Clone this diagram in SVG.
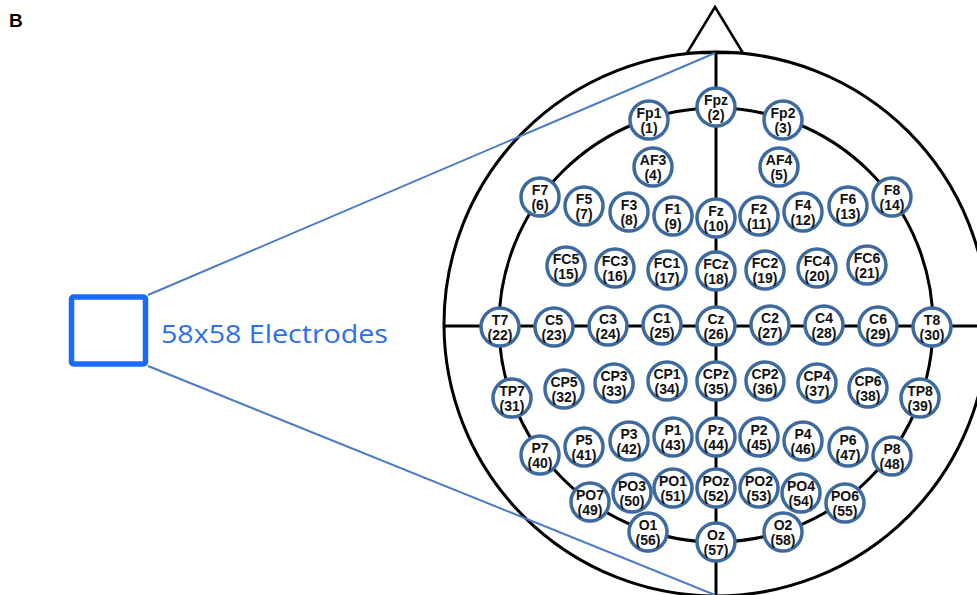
<svg xmlns="http://www.w3.org/2000/svg" width="977" height="595" viewBox="0 0 977 595">
<style>
.hd{fill:none;stroke:#000;stroke-width:3}
.el circle{fill:#fff;stroke:#3d6a9e;stroke-width:3.5}
.el text{font-family:"Liberation Sans",Arial,sans-serif;font-weight:bold;font-size:14px;fill:#111;text-anchor:middle}
.cn{stroke:#4a7cc4;stroke-width:2;fill:none}
</style>
<rect width="977" height="595" fill="#fff"/>
<text x="9" y="27" font-family="Liberation Sans,Arial,sans-serif" font-weight="bold" font-size="19" fill="#000">B</text>
<g id="head">
<polygon points="715,7 687,53 743,53" fill="#fff" stroke="#000" stroke-width="2.5" stroke-linejoin="miter"/>
<circle class="hd" cx="716" cy="324" r="272"/>
<circle class="hd" cx="716" cy="325" r="217"/>
<line class="hd" x1="716" y1="52" x2="716" y2="596"/>
<line class="hd" x1="444" y1="326" x2="977" y2="326"/>
</g>
<g id="connectors">
<line class="cn" x1="148" y1="295" x2="715" y2="53"/>
<line class="cn" x1="148" y1="366" x2="715" y2="595"/>
</g>
<g id="electrode-box">
<rect x="71.5" y="297" width="74" height="67" rx="2" fill="#fff" stroke="#1a6aff" stroke-width="5.5"/>
<text x="161" y="343" font-family="Open Sans,sans-serif" font-size="25" fill="#2c6ef2" textLength="227" lengthAdjust="spacingAndGlyphs">58x58 Electrodes</text>
</g>
<g id="electrodes" class="el">
<g id="Fp1"><circle cx="649" cy="120" r="19"/><text x="649" y="118">Fp1</text><text x="649" y="133">(1)</text></g>
<g id="Fpz"><circle cx="716" cy="107" r="19"/><text x="716" y="105">Fpz</text><text x="716" y="120">(2)</text></g>
<g id="Fp2"><circle cx="783" cy="120" r="19"/><text x="783" y="118">Fp2</text><text x="783" y="133">(3)</text></g>
<g id="AF3"><circle cx="653" cy="167" r="19"/><text x="653" y="165">AF3</text><text x="653" y="180">(4)</text></g>
<g id="AF4"><circle cx="779" cy="167" r="19"/><text x="779" y="165">AF4</text><text x="779" y="180">(5)</text></g>
<g id="F7"><circle cx="540" cy="197" r="19"/><text x="540" y="195">F7</text><text x="540" y="210">(6)</text></g>
<g id="F5"><circle cx="584" cy="206" r="19"/><text x="584" y="204">F5</text><text x="584" y="219">(7)</text></g>
<g id="F3"><circle cx="629" cy="212" r="19"/><text x="629" y="210">F3</text><text x="629" y="225">(8)</text></g>
<g id="F1"><circle cx="673" cy="216" r="19"/><text x="673" y="214">F1</text><text x="673" y="229">(9)</text></g>
<g id="Fz"><circle cx="716" cy="218" r="19"/><text x="716" y="216">Fz</text><text x="716" y="231">(10)</text></g>
<g id="F2"><circle cx="759" cy="216" r="19"/><text x="759" y="214">F2</text><text x="759" y="229">(11)</text></g>
<g id="F4"><circle cx="803" cy="212" r="19"/><text x="803" y="210">F4</text><text x="803" y="225">(12)</text></g>
<g id="F6"><circle cx="848" cy="206" r="19"/><text x="848" y="204">F6</text><text x="848" y="219">(13)</text></g>
<g id="F8"><circle cx="892" cy="197" r="19"/><text x="892" y="195">F8</text><text x="892" y="210">(14)</text></g>
<g id="FC5"><circle cx="566" cy="266" r="19"/><text x="566" y="264">FC5</text><text x="566" y="279">(15)</text></g>
<g id="FC3"><circle cx="615" cy="268" r="19"/><text x="615" y="266">FC3</text><text x="615" y="281">(16)</text></g>
<g id="FC1"><circle cx="667" cy="270" r="19"/><text x="667" y="268">FC1</text><text x="667" y="283">(17)</text></g>
<g id="FCz"><circle cx="716" cy="271" r="19"/><text x="716" y="269">FCz</text><text x="716" y="284">(18)</text></g>
<g id="FC2"><circle cx="765" cy="270" r="19"/><text x="765" y="268">FC2</text><text x="765" y="283">(19)</text></g>
<g id="FC4"><circle cx="817" cy="268" r="19"/><text x="817" y="266">FC4</text><text x="817" y="281">(20)</text></g>
<g id="FC6"><circle cx="867" cy="265" r="19"/><text x="867" y="263">FC6</text><text x="867" y="278">(21)</text></g>
<g id="T7"><circle cx="500" cy="327" r="19"/><text x="500" y="325">T7</text><text x="500" y="340">(22)</text></g>
<g id="C5"><circle cx="554" cy="327" r="19"/><text x="554" y="325">C5</text><text x="554" y="340">(23)</text></g>
<g id="C3"><circle cx="608" cy="326" r="19"/><text x="608" y="324">C3</text><text x="608" y="339">(24)</text></g>
<g id="C1"><circle cx="662" cy="325" r="19"/><text x="662" y="323">C1</text><text x="662" y="338">(25)</text></g>
<g id="Cz"><circle cx="716" cy="326" r="19"/><text x="716" y="324">Cz</text><text x="716" y="339">(26)</text></g>
<g id="C2"><circle cx="770" cy="325" r="19"/><text x="770" y="323">C2</text><text x="770" y="338">(27)</text></g>
<g id="C4"><circle cx="824" cy="325" r="19"/><text x="824" y="323">C4</text><text x="824" y="338">(28)</text></g>
<g id="C6"><circle cx="878" cy="326" r="19"/><text x="878" y="324">C6</text><text x="878" y="339">(29)</text></g>
<g id="T8"><circle cx="932" cy="327" r="19"/><text x="932" y="325">T8</text><text x="932" y="340">(30)</text></g>
<g id="TP7"><circle cx="512" cy="398" r="19"/><text x="512" y="396">TP7</text><text x="512" y="411">(31)</text></g>
<g id="CP5"><circle cx="564" cy="389" r="19"/><text x="564" y="387">CP5</text><text x="564" y="402">(32)</text></g>
<g id="CP3"><circle cx="614" cy="383" r="19"/><text x="614" y="381">CP3</text><text x="614" y="396">(33)</text></g>
<g id="CP1"><circle cx="667" cy="381" r="19"/><text x="667" y="379">CP1</text><text x="667" y="394">(34)</text></g>
<g id="CPz"><circle cx="716" cy="381" r="19"/><text x="716" y="379">CPz</text><text x="716" y="394">(35)</text></g>
<g id="CP2"><circle cx="765" cy="381" r="19"/><text x="765" y="379">CP2</text><text x="765" y="394">(36)</text></g>
<g id="CP4"><circle cx="817" cy="383" r="19"/><text x="817" y="381">CP4</text><text x="817" y="396">(37)</text></g>
<g id="CP6"><circle cx="868" cy="388" r="19"/><text x="868" y="386">CP6</text><text x="868" y="401">(38)</text></g>
<g id="TP8"><circle cx="920" cy="398" r="19"/><text x="920" y="396">TP8</text><text x="920" y="411">(39)</text></g>
<g id="P7"><circle cx="540" cy="455" r="19"/><text x="540" y="453">P7</text><text x="540" y="468">(40)</text></g>
<g id="P5"><circle cx="584" cy="447" r="19"/><text x="584" y="445">P5</text><text x="584" y="460">(41)</text></g>
<g id="P3"><circle cx="629" cy="441" r="19"/><text x="629" y="439">P3</text><text x="629" y="454">(42)</text></g>
<g id="P1"><circle cx="673" cy="437" r="19"/><text x="673" y="435">P1</text><text x="673" y="450">(43)</text></g>
<g id="Pz"><circle cx="716" cy="437" r="19"/><text x="716" y="435">Pz</text><text x="716" y="450">(44)</text></g>
<g id="P2"><circle cx="759" cy="437" r="19"/><text x="759" y="435">P2</text><text x="759" y="450">(45)</text></g>
<g id="P4"><circle cx="803" cy="441" r="19"/><text x="803" y="439">P4</text><text x="803" y="454">(46)</text></g>
<g id="P6"><circle cx="848" cy="447" r="19"/><text x="848" y="445">P6</text><text x="848" y="460">(47)</text></g>
<g id="P8"><circle cx="892" cy="456" r="19"/><text x="892" y="454">P8</text><text x="892" y="469">(48)</text></g>
<g id="PO7"><circle cx="590" cy="502" r="19"/><text x="590" y="500">PO7</text><text x="590" y="515">(49)</text></g>
<g id="PO3"><circle cx="632" cy="493" r="19"/><text x="632" y="491">PO3</text><text x="632" y="506">(50)</text></g>
<g id="PO1"><circle cx="673" cy="488" r="19"/><text x="673" y="486">PO1</text><text x="673" y="501">(51)</text></g>
<g id="POz"><circle cx="716" cy="488" r="19"/><text x="716" y="486">POz</text><text x="716" y="501">(52)</text></g>
<g id="PO2"><circle cx="759" cy="488" r="19"/><text x="759" y="486">PO2</text><text x="759" y="501">(53)</text></g>
<g id="PO4"><circle cx="801" cy="493" r="19"/><text x="801" y="491">PO4</text><text x="801" y="506">(54)</text></g>
<g id="PO6"><circle cx="845" cy="503" r="19"/><text x="845" y="501">PO6</text><text x="845" y="516">(55)</text></g>
<g id="O1"><circle cx="648" cy="532" r="19"/><text x="648" y="530">O1</text><text x="648" y="545">(56)</text></g>
<g id="Oz"><circle cx="716" cy="542" r="19"/><text x="716" y="540">Oz</text><text x="716" y="555">(57)</text></g>
<g id="O2"><circle cx="783" cy="532" r="19"/><text x="783" y="530">O2</text><text x="783" y="545">(58)</text></g>
</g>
</svg>
